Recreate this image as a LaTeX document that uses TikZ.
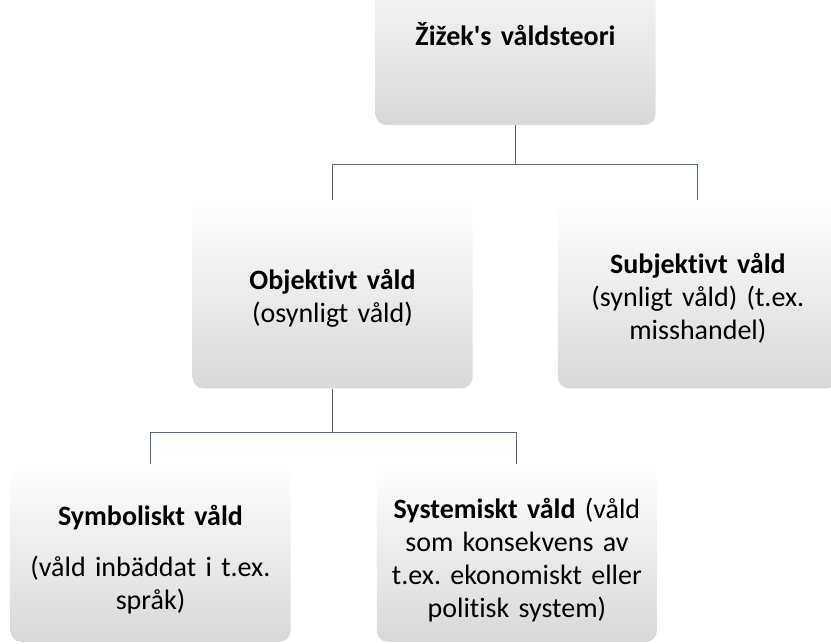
\documentclass[tikz,border=0pt]{standalone}
\usepackage{fontspec}
\setmainfont{Carlito}[Ligatures=NoCommon]
\usepackage{tikz}
\usetikzlibrary{positioning}
\definecolor{linkblue}{RGB}{84,104,150}
\definecolor{boxgray}{RGB}{216,216,216}
\frenchspacing

\begin{document}
\begin{tikzpicture}[x=1pt,y=1pt,node distance=75pt]
\tikzstyle{vbox}=[rectangle,rounded corners=11pt,top color=white,bottom color=boxgray,
  minimum width=280pt,minimum height=188pt,text width=268pt,align=center,
  font=\fontsize{28}{33}\selectfont,inner sep=0pt,
  execute at begin node={\rule{0pt}{29pt}}]
\tikzstyle{lowbox}=[vbox,minimum height=178pt,execute at begin node={\rule{0pt}{34pt}}]
\tikzstyle{conn}=[draw=linkblue,line width=0.9pt]
\clip (0,0) rectangle (831,-644);
\node [vbox,execute at begin node={\rule{0pt}{22pt}}] (teori) at (515.5,-31) {\textbf{Žižek\textquotesingle s våldsteori}};
\node [vbox] (objektivt) [below=75pt of teori, xshift=-183pt] {\textbf{Objektivt våld}\\(osynligt våld)};
\node [vbox] (subjektivt) [right=85pt of objektivt] {\textbf{Subjektivt våld}\\(synligt våld) (t.ex.\\misshandel)};
\node [lowbox] (symboliskt) [below=75pt of objektivt, xshift=-182pt] {\textbf{Symboliskt våld}\\[18pt](våld inbäddat i t.ex.\\språk)};
\node [lowbox] (systemiskt) [right=86pt of symboliskt] {\textbf{Systemiskt våld} (våld\\som konsekvens av\\t.ex. ekonomiskt eller\\politisk system)};
% connectors
\draw [conn] (teori.south) -- ++(0,-39) -| (objektivt.north);
\draw [conn] (teori.south) -- ++(0,-39) -| (subjektivt.north);
\draw [conn] (objektivt.south) -- ++(0,-44) -| (symboliskt.north);
\draw [conn] (objektivt.south) -- ++(0,-44) -| (systemiskt.north);
\end{tikzpicture}
\end{document}
